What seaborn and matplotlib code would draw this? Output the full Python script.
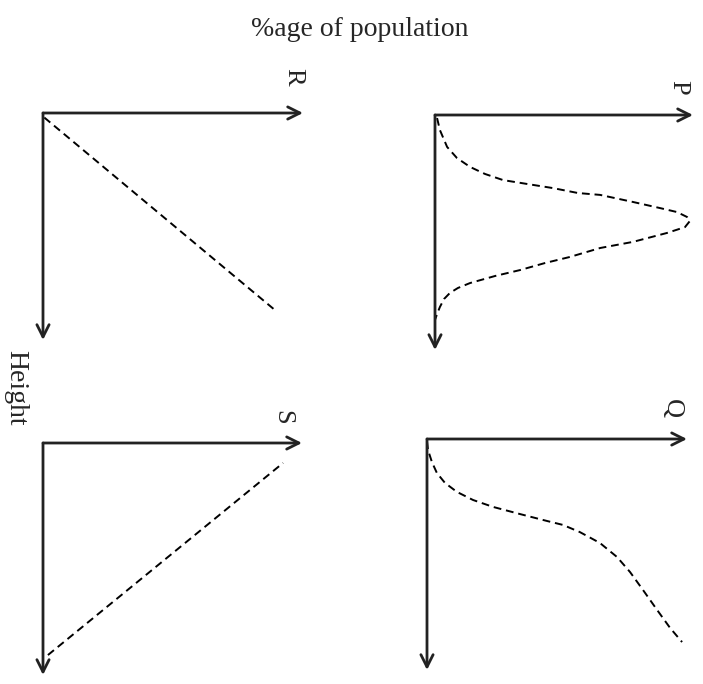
import matplotlib
matplotlib.use('agg')
import matplotlib.pyplot as plt
import seaborn as sns

sns.set_style('white')
plt.rcParams['font.family'] = ['Liberation Serif', 'DejaVu Serif']

# curves: x = %age of population, y = height (axis pointing down)
p_pct = [0.08, 0.19, 0.47, 0.85, 1.36, 1.94, 2.64, 3.60, 4.57, 5.54, 6.40, 7.67, 8.72,
         9.38, 9.77, 9.88, 9.69, 8.99, 7.67, 6.40, 5.23, 4.26, 3.29, 2.33, 1.36, 0.89,
         0.58, 0.35, 0.19, 0.08, 0.0]
p_height = [0.13, 0.64, 1.36, 1.83, 2.21, 2.51, 2.77, 2.94, 3.11, 3.32, 3.40, 3.70, 3.96,
            4.13, 4.34, 4.51, 4.77, 5.02, 5.40, 5.66, 6.04, 6.30, 6.60, 6.85, 7.15, 7.36,
            7.57, 7.83, 8.17, 8.47, 8.72]

q_pct = [0.0, 0.04, 0.19, 0.38, 0.69, 1.15, 1.77, 2.54, 3.58, 4.62, 5.23, 5.88, 6.65,
         7.31, 7.81, 8.31, 8.85, 9.35, 9.81]
q_height = [0.1, 0.48, 1.0, 1.47, 1.90, 2.29, 2.64, 2.94, 3.25, 3.55, 3.72, 4.03, 4.50,
            5.11, 5.76, 6.54, 7.40, 8.18, 8.79]

r_pct = [0.05, 8.92]
r_height = [0.2, 8.68]

s_pct = [0.19, 9.27]
s_height = [9.14, 0.86]

panels = [
    # label, label px, pct, height, origin px, x tip px, y tip px
    ('R', (293, 77), r_pct, r_height, (43, 113), 303, 340),
    ('P', (678, 87), p_pct, p_height, (435, 115), 693, 350),
    ('S', (282, 417), s_pct, s_height, (43, 443), 302, 675),
    ('Q', (672, 409), q_pct, q_height, (427, 439), 687, 670),
]

W, H = 703, 684
fig = plt.figure(figsize=(W / 100, H / 100), dpi=100)

for label, (lx, ly), pct, height, (ox, oy), xtip, ytip in panels:
    ax = fig.add_axes([ox / W, 1 - ytip / H, (xtip - ox) / W, (ytip - oy) / H])
    ax.set_xlim(0, 10)
    ax.set_ylim(10, 0)
    ax.axis('off')
    sns.lineplot(x=pct, y=height, sort=False, estimator=None, ax=ax,
                 color='black', lw=1.4, linestyle=(0, (4, 2.5)))
    arrow = dict(arrowstyle='->', lw=2, color='#222222', mutation_scale=22,
                 shrinkA=0, shrinkB=0)
    ax.annotate('', xy=(10, 0), xytext=(0, 0), arrowprops=arrow, annotation_clip=False)
    ax.annotate('', xy=(0, 10), xytext=(0, 0), arrowprops=arrow, annotation_clip=False)
    fig.text(lx / W, 1 - ly / H, label, rotation=-90, ha='center', va='center', fontsize=19)

fig.text(360 / W, 1 - 30 / H, '%age of population', ha='center', va='center', fontsize=20)
fig.text(16 / W, 1 - 388 / H, 'Height', rotation=-90, ha='center', va='center', fontsize=20)

fig.savefig('out.png', dpi=100)
